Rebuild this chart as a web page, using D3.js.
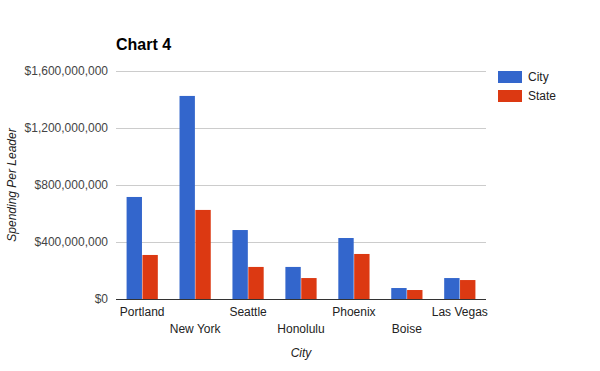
<!DOCTYPE html>
<html>
<head>
<meta charset="utf-8">
<script src="https://cdn.jsdelivr.net/npm/d3@7"></script>
<style>
  body { margin: 0; background: #fff; }
  text { font-family: Arial, "Liberation Sans", sans-serif; }
</style>
</head>
<body>
<div id="chart"></div>
<script>
var cities = ["Portland", "New York", "Seattle", "Honolulu", "Phoenix", "Boise", "Las Vegas"];
var cityValues = [716e6, 1425e6, 484e6, 225e6, 428e6, 77e6, 147e6];
var stateValues = [309e6, 625e6, 225e6, 147e6, 316e6, 63e6, 133e6];
var seriesNames = ["City", "State"];
var seriesColors = ["#3366cc", "#dc3912"];
var yTicks = [0, 400e6, 800e6, 1200e6, 1600e6];

var width = 600, height = 371;
// plot area edges (note: "top" is reserved on window, so use plot* names)
var plotLeft = 116, plotRight = 486, plotTop = 71, plotBottom = 299;

var svg = d3.select("#chart").append("svg")
	.attr("width", width)
	.attr("height", height);

var x = d3.scaleBand()
	.domain(cities)
	.range([plotLeft, plotRight])
	.paddingInner(0.41)
	.paddingOuter(0.2);

var xSub = d3.scaleBand()
	.domain(seriesNames)
	.range([0, x.bandwidth()])
	.paddingInner(0.03);

var y = d3.scaleLinear()
	.domain([0, 1600e6])
	.range([plotBottom, plotTop]);

var fmt = function (v) { return "$" + d3.format(",")(v); };

// gridlines
svg.append("g").selectAll("line")
	.data(yTicks.slice(1))
	.enter().append("line")
	.attr("x1", plotLeft).attr("x2", plotRight)
	.attr("y1", function (d) { return Math.round(y(d)) + 0.5; })
	.attr("y2", function (d) { return Math.round(y(d)) + 0.5; })
	.style("stroke", "#cccccc");

// y tick labels
svg.append("g").selectAll("text")
	.data(yTicks)
	.enter().append("text")
	.attr("x", plotLeft - 8)
	.attr("y", function (d) { return y(d) + 4; })
	.attr("text-anchor", "end")
	.style("font-size", "12px")
	.style("fill", "#444")
	.text(fmt);

// bars
var rows = cities.map(function (c, i) {
	return [{ city: c, s: "City", v: cityValues[i] }, { city: c, s: "State", v: stateValues[i] }];
});

var group = svg.selectAll(".grp")
	.data(rows)
	.enter().append("g")
	.attr("class", "grp")
	.attr("transform", function (d) { return "translate(" + x(d[0].city) + ",0)"; });

group.selectAll("rect")
	.data(function (d) { return d; })
	.enter().append("rect")
	.attr("x", function (d) { return xSub(d.s); })
	.attr("width", xSub.bandwidth())
	.attr("y", function (d) { return y(d.v); })
	.attr("height", function (d) { return plotBottom - y(d.v); })
	.style("fill", function (d) { return seriesColors[seriesNames.indexOf(d.s)]; });

// baseline
svg.append("line")
	.attr("x1", plotLeft).attr("x2", plotRight)
	.attr("y1", plotBottom + 0.5).attr("y2", plotBottom + 0.5)
	.style("stroke", "#333");

// x labels, alternating rows
svg.append("g").selectAll("text")
	.data(cities)
	.enter().append("text")
	.attr("x", function (d) { return x(d) + x.bandwidth() / 2; })
	.attr("y", function (d, i) { return i % 2 == 0 ? 316 : 333; })
	.attr("text-anchor", "middle")
	.style("font-size", "12px")
	.style("fill", "#222")
	.text(function (d) { return d; });

// axis titles
svg.append("text")
	.attr("x", (plotLeft + plotRight) / 2)
	.attr("y", 357)
	.attr("text-anchor", "middle")
	.style("font-size", "12px")
	.style("font-style", "italic")
	.style("fill", "#222")
	.text("City");

svg.append("text")
	.attr("transform", "translate(16," + (plotTop + plotBottom) / 2 + ") rotate(-90)")
	.attr("text-anchor", "middle")
	.style("font-size", "12px")
	.style("font-style", "italic")
	.style("fill", "#222")
	.text("Spending Per Leader");

// title
svg.append("text")
	.attr("x", plotLeft)
	.attr("y", 50)
	.style("font-size", "16px")
	.style("font-weight", "bold")
	.style("fill", "#000")
	.text("Chart 4");

// legend
var legend = svg.selectAll(".legend")
	.data(seriesNames)
	.enter().append("g")
	.attr("class", "legend")
	.attr("transform", function (d, i) { return "translate(498," + (71 + i * 19) + ")"; });

legend.append("rect")
	.attr("width", 24).attr("height", 12)
	.style("fill", function (d, i) { return seriesColors[i]; });

legend.append("text")
	.attr("x", 30).attr("y", 10)
	.style("font-size", "12px")
	.style("fill", "#222")
	.text(function (d) { return d; });
</script>
</body>
</html>
